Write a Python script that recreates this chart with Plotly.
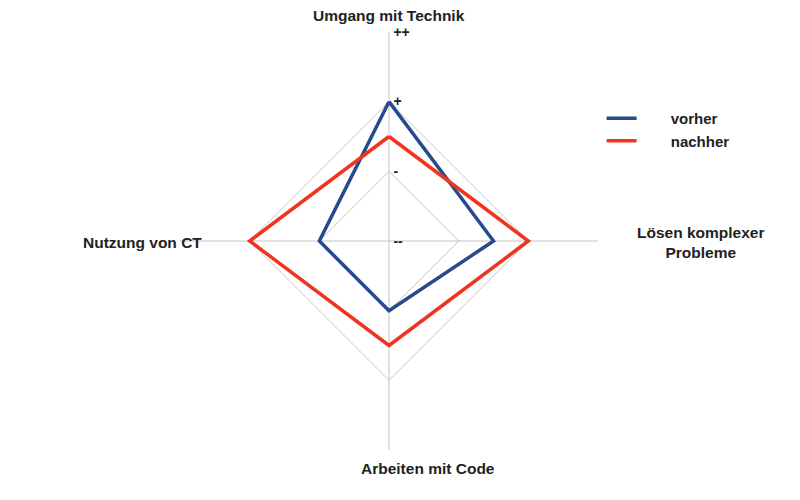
import plotly.graph_objects as go

categories = ["Umgang mit Technik", "Lösen komplexer Probleme", "Arbeiten mit Code", "Nutzung von CT"]
vorher = [3.0, 2.5, 2.0, 2.0]
nachher = [2.5, 3.0, 2.5, 3.0]
tick_vals = [1, 2, 3, 4]
tick_text = ["--", "-", "+", "++"]
series_names = ["vorher", "nachher"]

FONT = "Liberation Sans, Arial, sans-serif"
BLUE = "#254a8e"
RED = "#f0341f"
NB = "\u00a0"
PAD = NB * 7

fig = go.Figure()
for name, vals, col in [(series_names[0], vorher, BLUE), (series_names[1], nachher, RED)]:
    fig.add_trace(go.Scatterpolar(
        r=vals + vals[:1],
        theta=categories + categories[:1],
        mode="lines",
        name=PAD + name,
        line=dict(color=col, width=3.5),
    ))

cx, cy, R = 389, 241, 209
W, H = 800, 500
fig.update_layout(
    width=W, height=H,
    margin=dict(l=0, r=0, t=0, b=0),
    paper_bgcolor="white",
    plot_bgcolor="white",
    font=dict(family=FONT, size=14, color="#222222"),
    polar=dict(
        domain=dict(x=[(cx - R) / W, (cx + R) / W], y=[(H - cy - R) / H, (H - cy + R) / H]),
        bgcolor="white",
        gridshape="linear",
        angularaxis=dict(
            direction="clockwise",
            rotation=90,
            showticklabels=False,
            ticks="",
            showline=False,
            gridcolor="#c4c4c4",
            gridwidth=0.8,
        ),
        radialaxis=dict(
            range=[1, 4],
            tickvals=tick_vals,
            ticktext=[NB + t for t in tick_text],
            angle=90,
            tickangle=90,
            side="clockwise",
            showline=False,
            ticks="",
            gridcolor="#c4c4c4",
            gridwidth=0.8,
            tickfont=dict(family=FONT, size=14, color="#222222", weight="bold"),
        ),
    ),
    legend=dict(
        x=0.752, y=0.796, xanchor="left", yanchor="top",
        font=dict(family=FONT, size=15, color="#222222", weight="bold"),
        bgcolor="rgba(0,0,0,0)",
    ),
)

label_pos = [
    (cx, 15, "center"),
    (701, 242, "center"),
    (428, 468, "center"),
    (142, 242, "center"),
]
for cat, (x, y, al) in zip(categories, label_pos):
    txt = cat.replace("Lösen komplexer Probleme", "Lösen komplexer<br>Probleme")
    fig.add_annotation(
        x=x / W, y=1 - y / H, xref="paper", yref="paper",
        text=txt, showarrow=False, align=al,
        font=dict(family=FONT, size=15.5, color="#222222", weight="bold"),
        xanchor="center", yanchor="middle",
    )

fig.write_html("out.html")
